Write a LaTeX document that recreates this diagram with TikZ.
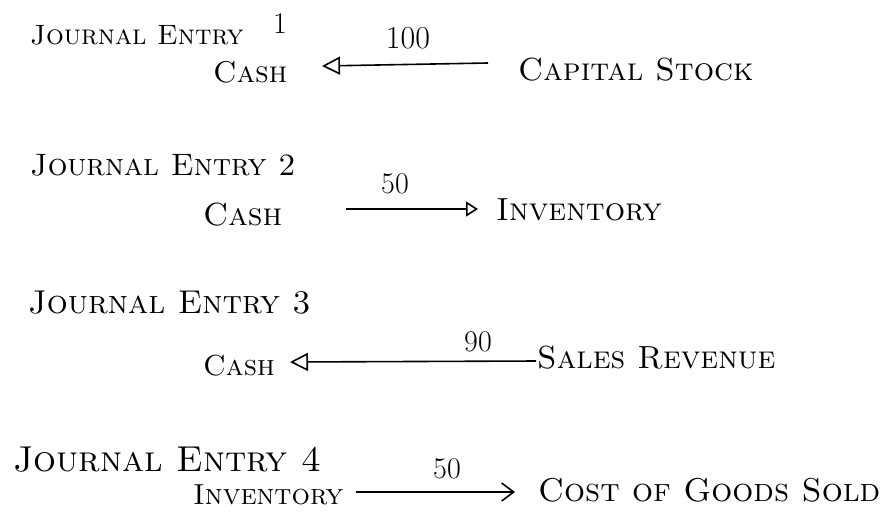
\documentclass[tikz,border=0pt]{standalone}
\usetikzlibrary{arrows.meta}
\begin{document}
\begin{tikzpicture}[x=1pt,y=-1pt,
  title/.style={font=\fontsize{31}{36}\selectfont\scshape, anchor=west, inner sep=0pt},
  acct/.style={font=\fontsize{32}{36}\selectfont\scshape, anchor=west, inner sep=0pt},
  amt/.style={font=\fontsize{30}{34}\selectfont, inner sep=0pt},
  flowL/.style={line width=1.6pt, -{Triangle[open,length=18pt,width=18pt,line width=1.6pt]}},
  flowR/.style={line width=1.6pt, -{Triangle[open,length=12pt,width=15pt,line width=1.6pt]}},
  flowS/.style={line width=1.6pt, -{Straight Barb[length=12pt,width=18pt,line width=1.6pt]}}]
\useasboundingbox (0,0) rectangle (882,512);
% Entry 1
\node[title, font=\fontsize{28}{32}\selectfont\scshape] (j1) at (30,35) {Journal Entry};
\node[amt] (n1) at (280,24) {1};
\node[acct, font=\fontsize{30}{34}\selectfont\scshape] (c1) at (213,72) {Cash};
\node[acct] (s1) at (518,70) {Capital Stock};
\node[amt, font=\fontsize{32}{36}\selectfont] (a1) at (408,38) {100};
\draw[flowL] (488,63) -- (322,66);
% Entry 2
\node[title] (j2) at (30,165) {Journal Entry 2};
\node[acct] (c2) at (203,215) {Cash};
\node[acct] (i2) at (496,210) {Inventory};
\node[amt] (a2) at (395,184) {50};
\draw[flowR] (346,209) -- (478,209);
% Entry 3
\node[title, font=\fontsize{33}{38}\selectfont\scshape] (j3) at (28,303) {Journal Entry 3};
\node[acct, font=\fontsize{29}{34}\selectfont\scshape] (c3) at (203,366) {Cash};
\node[acct] (r3) at (537,358) {Sales Revenue};
\node[amt] (a3) at (478,342) {90};
\draw[flowL] (536,361) -- (290,362);
% Entry 4
\node[title, font=\fontsize{36}{40}\selectfont\scshape] (j4) at (13,460) {Journal Entry 4};
\node[acct, font=\fontsize{29}{34}\selectfont\scshape] (i4) at (193,495) {Inventory};
\node[acct, font=\fontsize{33}{38}\selectfont\scshape] (g4) at (538,490) {Cost of Goods Sold};
\node[amt] (a4) at (447,469) {50};
\draw[flowS] (356,492) -- (515,492);
\end{tikzpicture}
\end{document}
